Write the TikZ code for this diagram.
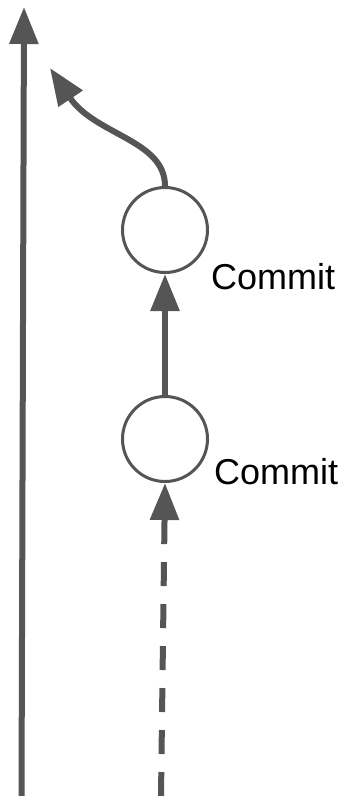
\documentclass[tikz,border=0pt]{standalone}
\usepackage{fontspec}
\setmainfont{Liberation Sans}
\usetikzlibrary{arrows.meta}
\definecolor{edgegray}{RGB}{85,85,85}
\begin{document}
\begin{tikzpicture}[x=1pt,y=-1pt,
  commit/.style={circle,draw=edgegray,line width=3pt,minimum size=85pt,inner sep=0pt,fill=white},
  flow/.style={draw=edgegray,line width=6pt,-{Triangle[length=37pt,width=28pt]},color=edgegray},
  lbl/.style={anchor=base west,inner sep=0pt,font=\fontsize{36}{40}\selectfont}]
\useasboundingbox (0,0) rectangle (347,796);
\node[commit] (c1) at (165,230) {};
\node[commit] (c2) at (165,439) {};
\node[lbl] (l1) at (211,289) {Commit};
\node[lbl] (l2) at (214,484) {Commit};
\coordinate (mainbot) at (21.5,796);
\coordinate (maintop) at (24,7);
\coordinate (brtip) at (50,68);
\coordinate (dashbot) at (161,796);
\draw[flow] (mainbot) -- (maintop);
\draw[flow] (c1.north) .. controls (165,140) and (95,135) .. (brtip);
\draw[flow] (c2) -- (c1);
\draw[flow,dash pattern=on 24pt off 18pt] (dashbot) -- (c2.south);
\end{tikzpicture}
\end{document}
